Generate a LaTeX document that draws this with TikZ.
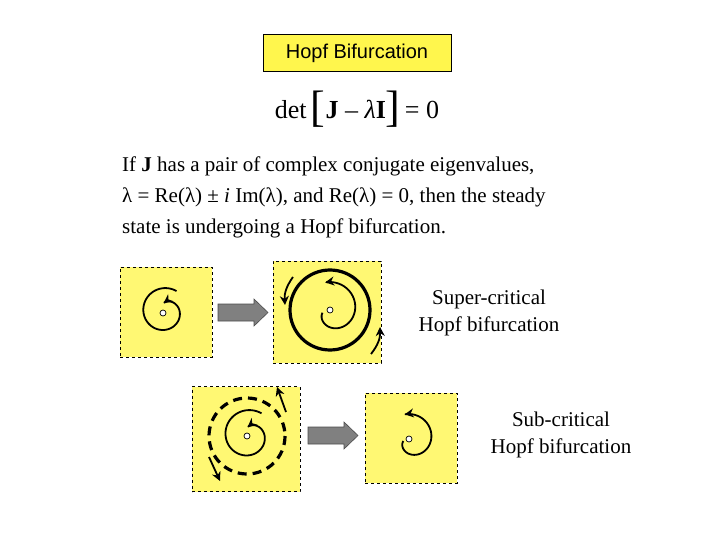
\documentclass[tikz,border=0pt]{standalone}
\usepackage{fontspec}
\setmainfont{Liberation Serif}
\setsansfont{Liberation Sans}
\usetikzlibrary{arrows.meta}
\begin{document}
\begin{tikzpicture}[x=1pt,y=-1pt,
  panel/.style={draw,dashed,fill=yellow!55,line width=0.6pt},
  spir/.style={line width=1.8pt,-{Stealth[length=9pt,width=9pt]}},
  garrow/.style={draw=black!70,fill=black!50,line width=0.6pt},
  origin/.style={circle,draw,fill=white,inner sep=0pt,minimum size=6pt,line width=0.7pt},
  lbl/.style={font=\fontsize{21}{27}\selectfont,align=center}]
\useasboundingbox (0,0) rectangle (720,540);
\node[draw,fill=yellow!70,font=\sffamily\fontsize{20}{24}\selectfont,minimum width=188pt,minimum height=37pt] (title) at (357,53) {Hopf Bifurcation};
\node[font=\fontsize{26}{30}\selectfont] (eq) at (357,109) {det\,{\fontsize{44}{44}\selectfont\raisebox{-3pt}{[}}\textbf{J} – \textit{λ}\textbf{I}{\fontsize{44}{44}\selectfont\raisebox{-3pt}{]}}\,= 0};
\node[anchor=north west,align=left,font=\fontsize{21}{31}\selectfont,inner sep=0pt] (para) at (122,157) {If \textbf{J} has a pair of complex conjugate eigenvalues,\\ λ = Re(λ) ± \textit{i} Im(λ), and Re(λ) = 0, then the steady\\ state is undergoing a Hopf bifurcation.};
% panels
\node[panel,minimum width=92pt,minimum height=90pt] (p1) at (166,312) {};
\node[panel,minimum width=108pt,minimum height=102pt] (p2) at (327,312) {};
\node[panel,minimum width=108pt,minimum height=105pt] (p3) at (246,439) {};
\node[panel,minimum width=92pt,minimum height=90pt] (p4) at (411,438) {};
\draw[garrow] (218,304) -- (254,304) -- (254,299) -- (268,312.5) -- (254,326) -- (254,321) -- (218,321) -- cycle;
\draw[garrow] (308,427) -- (344,427) -- (344,422) -- (358,435.5) -- (344,449) -- (344,444) -- (308,444) -- cycle;
% panel 1: stable spiral
\draw[spir] plot[domain=60:460,samples=120,smooth] ({165+(23-15*((\x-60)/400)^2)*cos(\x)},{311-(23-15*((\x-60)/400)^2)*sin(\x)});
\node[origin] (o1) at (163,313) {};
% panel 2: stable limit cycle
\draw[spir] plot[domain=200:460,samples=100,smooth] ({330+(8+20*(1-(1-(\x-200)/260)^2))*cos(\x)},{310-(8+20*(1-(1-(\x-200)/260)^2))*sin(\x)});
\draw[line width=3.2pt] (330,310) circle[radius=40];
\node[origin] (o2) at (330,310) {};
\coordinate (s2a) at (293,277); \coordinate (e2a) at (285,305);
\draw[spir] (s2a) to[bend right=20] (e2a);
\coordinate (s2b) at (371,354); \coordinate (e2b) at (380,327);
\draw[spir] (s2b) to[bend right=20] (e2b);
% panel 3: unstable limit cycle
\draw[spir] plot[domain=60:460,samples=120,smooth] ({249+(25-17*((\x-60)/400)^2)*cos(\x)},{435-(25-17*((\x-60)/400)^2)*sin(\x)});
\draw[line width=3.2pt,dash pattern=on 9pt off 6pt] (247,436) circle[radius=38];
\node[origin] (o3) at (247,436) {};
\coordinate (s3a) at (286,412); \coordinate (e3a) at (277,387);
\draw[spir] (s3a) -- (e3a);
\coordinate (s3b) at (209,457); \coordinate (e3b) at (220,481);
\draw[spir] (s3b) -- (e3b);
% panel 4: unstable spiral
\draw[spir] plot[domain=200:460,samples=100,smooth] ({409+(6+19*(1-(1-(\x-200)/260)^2))*cos(\x)},{439-(6+19*(1-(1-(\x-200)/260)^2))*sin(\x)});
\node[origin] (o4) at (409,439) {};
% labels
\node[lbl] (l1) at (489,313) {Super-critical\\Hopf bifurcation};
\node[lbl] (l2) at (561,435) {Sub-critical\\Hopf bifurcation};
\end{tikzpicture}
\end{document}
